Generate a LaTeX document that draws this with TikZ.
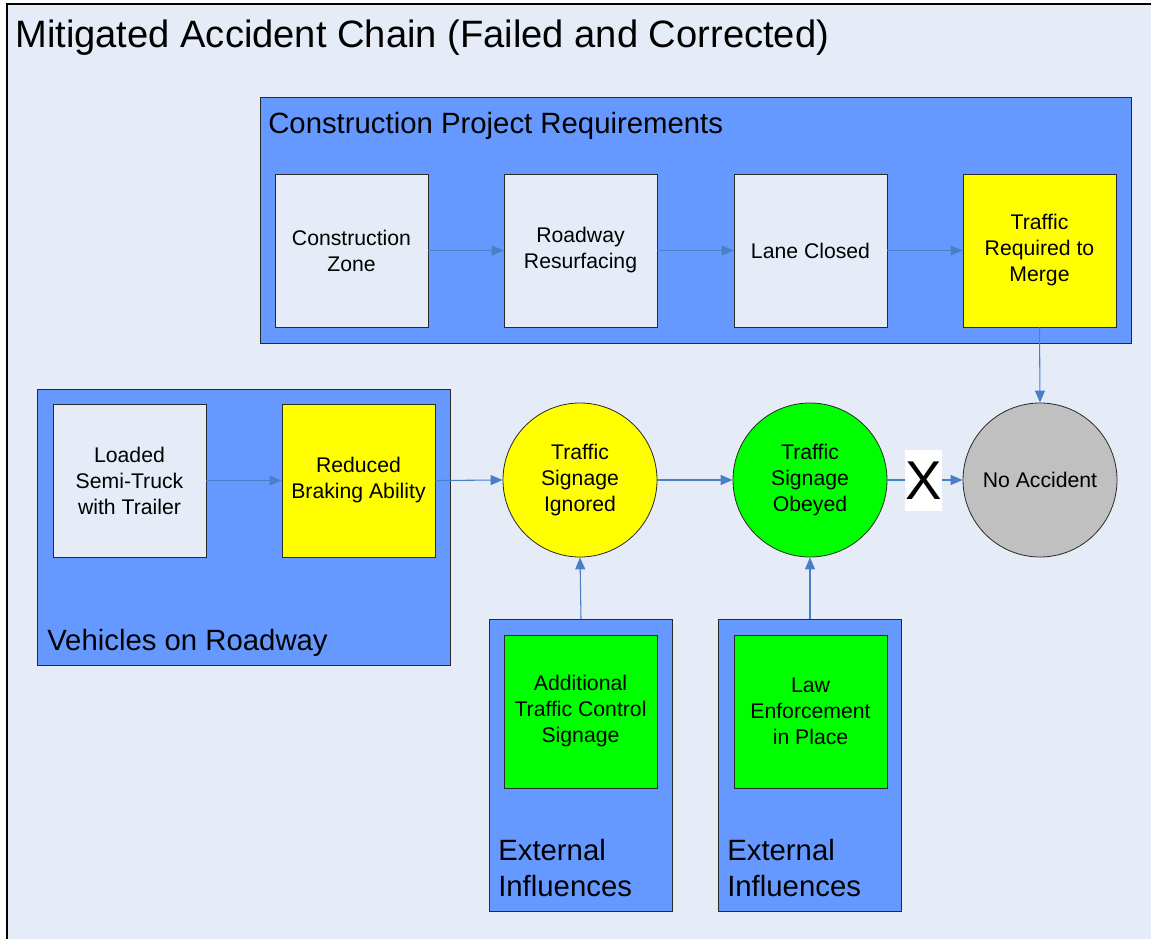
\documentclass[tikz,border=0pt]{standalone}
\usepackage{fontspec}
\setmainfont{Liberation Sans}
\usetikzlibrary{arrows.meta}
\definecolor{pagebg}{HTML}{E6ECF7}
\definecolor{groupblue}{HTML}{6699FF}
\definecolor{linkblue}{HTML}{4A7EC6}
\definecolor{edgegray}{HTML}{2A2A2A}
\definecolor{stepyellow}{HTML}{FFFF00}
\definecolor{stepgreen}{HTML}{00FF00}
\definecolor{stepgray}{HTML}{C0C0C0}
\tikzset{
  group/.style={draw=edgegray, line width=0.75pt, fill=groupblue},
  stepbox/.style={draw=edgegray, line width=0.6pt, fill=pagebg,
    minimum width=114.75pt, minimum height=114.75pt, inner sep=0pt,
    align=center, font=\fontsize{15.9}{19.5}\selectfont},
  event/.style={circle, draw=edgegray, line width=0.6pt,
    minimum size=115.5pt, inner sep=0pt,
    align=center, font=\fontsize{15.9}{19.5}\selectfont},
  grouplabel/.style={inner sep=0pt, align=left,
    font=\fontsize{22}{27}\selectfont},
  link/.style={draw=linkblue, line width=0.8pt,
    -{Triangle[length=9pt,width=7.5pt]}}
}
\begin{document}
\begin{tikzpicture}[x=0.75pt, y=-0.75pt]
\useasboundingbox (0,0) rectangle (1151,938);
\clip (0,0) rectangle (1151,938);
% page frame, open to the right and bottom
\fill[white] (0,0) rectangle (1151,938);
\draw[fill=pagebg, draw=black, line width=0.9pt] (7,4) rectangle (1170,960);
\node[anchor=base west, inner sep=0pt, font=\fontsize{28.6}{34}\selectfont]
  (title) at (15,48) {Mitigated Accident Chain (Failed and Corrected)};

% group containers
\node[group, anchor=north west, minimum width=653.25pt, minimum height=184.5pt, inner sep=0pt]
  (cpr) at (260,97) {};
\node[group, anchor=north west, minimum width=309.75pt, minimum height=207pt, inner sep=0pt]
  (veh) at (37,389) {};
\node[group, anchor=north west, minimum width=137.25pt, minimum height=219pt, inner sep=0pt]
  (ext1) at (489,619) {};
\node[group, anchor=north west, minimum width=137.25pt, minimum height=219pt, inner sep=0pt]
  (ext2) at (718,619) {};

\node[grouplabel, anchor=base west] (cprl) at (268,133) {Construction Project Requirements};
\node[grouplabel, anchor=base west] (vehl) at (47,650) {Vehicles on Roadway};
\node[grouplabel, anchor=north west] (ext1l) at (498,838.5) {External\\Influences};
\node[grouplabel, anchor=north west] (ext2l) at (727,838.5) {External\\Influences};

% construction steps
\node[stepbox] (cz)  at (351.5,250.5) {Construction\\Zone};
\node[stepbox] (rr)  at (580.5,250.5) {Roadway\\Resurfacing};
\node[stepbox] (lc)  at (810.5,250.5) {Lane Closed};
\node[stepbox, fill=stepyellow] (trm) at (1039.5,250.5) {Traffic\\Required to\\Merge};

% vehicle steps
\node[stepbox] (lst) at (129.5,480.5) {Loaded\\Semi-Truck\\with Trailer};
\node[stepbox, fill=stepyellow] (rba) at (358.5,480.5) {Reduced\\Braking Ability};

% outside influences
\node[stepbox, fill=stepgreen] (atcs) at (580.5,711.5) {Additional\\Traffic Control\\Signage};
\node[stepbox, fill=stepgreen] (lep)  at (810.5,711.5) {Law\\Enforcement\\in Place};

% events
\node[event, fill=stepyellow] (tsi) at (580,480) {Traffic\\Signage\\Ignored};
\node[event, fill=stepgreen]  (tso) at (810,480) {Traffic\\Signage\\Obeyed};
\node[event, fill=stepgray]   (na)  at (1040,480) {No Accident};

% chain links
\draw[link] (cz.east) -- (rr.west);
\draw[link] (rr.east) -- (lc.west);
\draw[link] (lc.east) -- (trm.west);
\draw[link] (lst.east) -- (rba.west);
\draw[link] (rba.east) -- (tsi.west);
\draw[link] (tsi.east) -- (tso.west);
\draw[link] (trm.south) -- (na.north);
\draw[link] (ext1.north) -- (tsi.south);
\draw[link] (ext2.north) -- (tso.south);
\draw[link] (tso.east) -- (na.west);

% broken link marker
\node[fill=white, minimum width=26.25pt, minimum height=45.75pt, inner sep=0pt,
  font=\fontsize{41}{41}\selectfont] (xmark) at (923.5,480.5) {X};
\end{tikzpicture}
\end{document}
